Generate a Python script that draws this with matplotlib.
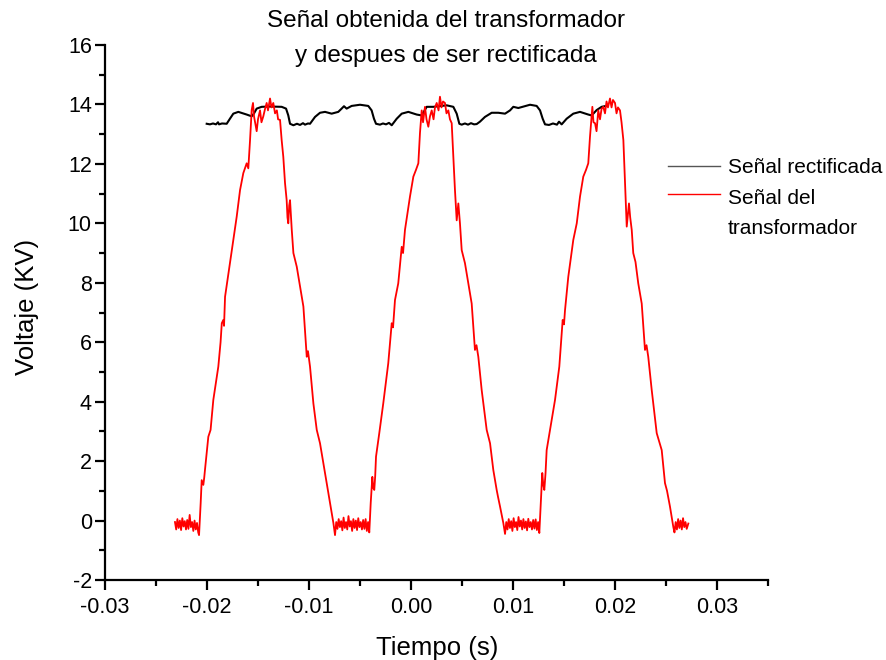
import matplotlib
matplotlib.use("Agg")
import matplotlib.pyplot as plt
from matplotlib.ticker import MultipleLocator

plt.rcParams['font.family'] = ['Liberation Sans', 'DejaVu Sans']
plt.rcParams['axes.unicode_minus'] = False

# ---- data ----
title_text = "Señal obtenida del transformador\ny despues de ser rectificada"
x_label = "Tiempo (s)"
y_label = "Voltaje (KV)"
label_rect = "Señal rectificada"
label_trans = "Señal del\ntransformador"

# rectified signal (black)
rect_t = [-0.02003, -0.01971, -0.01941, -0.01912, -0.01892, -0.01882, -0.01853, -0.01807,
          -0.01775, -0.01742, -0.01693, -0.01611, -0.01562, -0.01539, -0.01513, -0.01464,
          -0.01382, -0.01268, -0.01225, -0.01203, -0.01186, -0.01153, -0.01118, -0.01088,
          -0.01059, -0.01039, -0.01010, -0.00990, -0.00941, -0.00892, -0.00843, -0.00778,
          -0.00713, -0.00680, -0.00657, -0.00631, -0.00582, -0.00500, -0.00419, -0.00386,
          -0.00363, -0.00343, -0.00304, -0.00275, -0.00245, -0.00216, -0.00189, -0.00140,
          -0.00091, -0.00026, 0.00056, 0.00105, 0.00154, 0.00219, 0.00350, 0.00415,
          0.00448, 0.00474, 0.00497, 0.00529, 0.00559, 0.00588, 0.00618, 0.00644,
          0.00676, 0.00725, 0.00791, 0.00856, 0.00922, 0.00971, 0.01003, 0.01052,
          0.01167, 0.01232, 0.01265, 0.01291, 0.01314, 0.01353, 0.01392, 0.01431,
          0.01451, 0.01477, 0.01526, 0.01591, 0.01657, 0.01738, 0.01771, 0.01820,
          0.01869, 0.01912]
rect_v = [13.35, 13.33, 13.36, 13.33, 13.40, 13.33, 13.36, 13.35,
          13.52, 13.69, 13.75, 13.66, 13.60, 13.70, 13.86, 13.92,
          13.93, 13.92, 13.86, 13.63, 13.35, 13.30, 13.35, 13.31,
          13.37, 13.32, 13.36, 13.35, 13.58, 13.72, 13.75, 13.69,
          13.75, 13.86, 13.94, 13.86, 13.95, 13.99, 13.95, 13.80,
          13.52, 13.35, 13.32, 13.36, 13.33, 13.38, 13.30, 13.52,
          13.69, 13.75, 13.66, 13.63, 13.92, 13.92, 13.97, 13.92,
          13.69, 13.35, 13.32, 13.36, 13.32, 13.37, 13.33, 13.34,
          13.42, 13.58, 13.72, 13.72, 13.69, 13.80, 13.92, 13.88,
          13.99, 13.95, 13.80, 13.52, 13.33, 13.31, 13.36, 13.32,
          13.42, 13.33, 13.52, 13.69, 13.75, 13.66, 13.63, 13.81,
          13.92, 13.95]

# transformer signal (red)
trans_t = [
    # flat 1
    -0.02314, -0.02302, -0.02290, -0.02278, -0.02266, -0.02254, -0.02242, -0.02230,
    -0.02218, -0.02206, -0.02194, -0.02182, -0.02170, -0.02158, -0.02146, -0.02134,
    -0.02122, -0.02110, -0.02098, -0.02086, -0.02078,
    # peak 1
    -0.02062, -0.02052, -0.02036, -0.02027, -0.02020, -0.01987, -0.01965, -0.01938,
    -0.01889, -0.01867, -0.01855, -0.01840, -0.01833, -0.01823, -0.01775, -0.01742,
    -0.01709, -0.01676, -0.01644, -0.01611, -0.01595, -0.01578, -0.01562, -0.01549,
    -0.01539, -0.01529, -0.01513, -0.01500, -0.01480, -0.01466, -0.01448, -0.01431,
    -0.01415, -0.01402, -0.01382, -0.01368, -0.01350, -0.01333, -0.01315, -0.01303,
    -0.01284, -0.01268, -0.01252, -0.01235, -0.01219, -0.01211, -0.01203, -0.01194,
    -0.01186, -0.01169, -0.01153, -0.01120, -0.01088, -0.01055, -0.01022, -0.01010,
    -0.00990, -0.00957, -0.00924, -0.00892, -0.00859, -0.00826, -0.00813, -0.00794,
    -0.00761, -0.00745,
    # flat 2
    -0.00733, -0.00721, -0.00709, -0.00697, -0.00685, -0.00673, -0.00661, -0.00649,
    -0.00637, -0.00625, -0.00613, -0.00601, -0.00589, -0.00577, -0.00565, -0.00553,
    -0.00541, -0.00529, -0.00517, -0.00505, -0.00493, -0.00481, -0.00469, -0.00457,
    -0.00445, -0.00433, -0.00421, -0.00409,
    # peak 2
    -0.00395, -0.00379, -0.00370, -0.00360, -0.00351, -0.00343, -0.00311, -0.00272,
    -0.00223, -0.00189, -0.00176, -0.00157, -0.00125, -0.00091, -0.00078, -0.00059,
    -0.00010, 0.00023, 0.00049, 0.00072, 0.00088, 0.00105, 0.00118, 0.00137,
    0.00152, 0.00170, 0.00186, 0.00203, 0.00221, 0.00235, 0.00252, 0.00270,
    0.00284, 0.00299, 0.00314, 0.00333, 0.00348, 0.00366, 0.00382, 0.00399,
    0.00415, 0.00431, 0.00448, 0.00464, 0.00473, 0.00480, 0.00497, 0.00529,
    0.00562, 0.00595, 0.00627, 0.00642, 0.00660, 0.00693, 0.00742, 0.00775,
    0.00807, 0.00840, 0.00853, 0.00873, 0.00905, 0.00922,
    # flat 3
    0.00934, 0.00946, 0.00958, 0.00970, 0.00982, 0.00994, 0.01006, 0.01018,
    0.01030, 0.01042, 0.01054, 0.01066, 0.01078, 0.01090, 0.01102, 0.01114,
    0.01126, 0.01138, 0.01150, 0.01162, 0.01174, 0.01186, 0.01198, 0.01210,
    0.01222, 0.01234, 0.01246, 0.01258,
    # peak 3
    0.01272, 0.01287, 0.01297, 0.01307, 0.01319, 0.01330, 0.01363, 0.01412,
    0.01454, 0.01487, 0.01500, 0.01510, 0.01542, 0.01591, 0.01625, 0.01657,
    0.01689, 0.01716, 0.01738, 0.01755, 0.01778, 0.01789, 0.01804, 0.01819,
    0.01836, 0.01853, 0.01868, 0.01885, 0.01902, 0.01917, 0.01931, 0.01951,
    0.01966, 0.01980, 0.02000, 0.02015, 0.02029, 0.02049, 0.02064, 0.02082,
    0.02098, 0.02115, 0.02126, 0.02137, 0.02149, 0.02164, 0.02179, 0.02201,
    0.02228, 0.02262, 0.02294, 0.02309, 0.02326, 0.02360, 0.02409, 0.02458,
    0.02490, 0.02510, 0.02539, 0.02572, 0.02583,
    # flat 4
    0.02595, 0.02607, 0.02619, 0.02631, 0.02643, 0.02655, 0.02667, 0.02679,
    0.02691, 0.02703, 0.02719]
trans_v = [
    # flat 1
    -0.05, -0.30, 0.05, -0.25, 0.00, -0.32, 0.08, -0.20,
    -0.02, -0.30, 0.02, -0.28, 0.19, -0.22, -0.05, -0.35,
    0.00, -0.30, -0.08, -0.40, -0.49,
    # peak 1
    0.59, 1.36, 1.20, 1.45, 1.70, 2.82, 3.05, 4.06,
    5.18, 6.00, 6.64, 6.75, 6.55, 7.53, 8.65, 9.44,
    10.22, 11.12, 11.69, 12.02, 11.85, 12.80, 13.81, 14.05,
    13.60, 13.40, 13.10, 13.50, 13.80, 13.40, 13.60, 13.85,
    14.05, 13.80, 14.20, 13.90, 14.05, 13.70, 13.80, 13.50,
    13.48, 12.80, 12.24, 11.35, 10.78, 10.20, 10.00, 10.60,
    10.78, 9.78, 9.00, 8.54, 7.87, 7.20, 5.51, 5.70,
    5.18, 3.94, 3.05, 2.60, 1.93, 1.26, 1.00, 0.59,
    -0.08, -0.49,
    # flat 2
    -0.05, -0.28, 0.05, -0.22, -0.02, -0.33, 0.10, -0.25,
    -0.05, -0.30, 0.15, -0.20, -0.02, -0.35, 0.05, -0.25,
    0.00, -0.32, 0.08, -0.22, -0.05, -0.30, 0.02, -0.28,
    0.05, -0.35, -0.05, -0.40,
    # peak 2
    0.59, 1.47, 1.10, 1.03, 1.50, 2.15, 2.94, 3.94,
    5.29, 6.64, 6.50, 7.42, 7.98, 9.21, 9.00, 9.78,
    10.90, 11.57, 11.80, 12.02, 13.04, 13.80, 13.40, 13.92,
    13.50, 13.25, 13.60, 13.80, 13.50, 13.90, 14.05, 13.80,
    14.26, 13.90, 14.10, 14.05, 13.70, 13.80, 13.50, 13.37,
    12.24, 11.12, 10.10, 10.67, 10.30, 10.00, 9.10, 8.66,
    7.98, 7.30, 5.74, 5.90, 5.51, 4.39, 3.05, 2.60,
    1.70, 1.03, 0.80, 0.47, -0.08, -0.45,
    # flat 3
    -0.05, -0.30, 0.05, -0.25, -0.02, -0.35, 0.08, -0.22,
    -0.05, -0.32, 0.12, -0.20, 0.00, -0.30, 0.05, -0.25,
    -0.03, -0.33, 0.06, -0.22, -0.05, -0.30, 0.02, -0.27,
    0.04, -0.32, -0.05, -0.42,
    # peak 3
    0.59, 1.60, 1.20, 1.03, 1.60, 2.37, 3.05, 4.06,
    5.18, 6.75, 6.60, 7.08, 8.20, 9.44, 10.00, 10.90,
    11.57, 11.80, 12.02, 12.92, 13.92, 13.40, 13.37, 13.10,
    13.80, 13.50, 13.85, 13.92, 13.70, 14.10, 13.90, 14.20,
    13.90, 14.15, 14.05, 13.70, 13.90, 13.80, 13.40, 12.80,
    11.35, 9.89, 10.30, 10.67, 10.20, 9.78, 9.00, 8.70,
    7.98, 7.30, 5.74, 5.90, 5.51, 4.39, 2.94, 2.37,
    1.26, 1.00, 0.47, -0.22, -0.40,
    # flat 4
    -0.05, -0.30, 0.05, -0.25, 0.00, -0.30, 0.08, -0.22,
    -0.05, -0.28, -0.10]

x_ticks = [-0.03, -0.02, -0.01, 0.00, 0.01, 0.02, 0.03]
x_tick_labels = ["-0.03", "-0.02", "-0.01", "0.00", "0.01", "0.02", "0.03"]
y_ticks = [-2, 0, 2, 4, 6, 8, 10, 12, 14, 16]

# ---- figure ----
fig = plt.figure(figsize=(8.86, 6.6), dpi=100)
ax = fig.add_axes([105 / 886, (660 - 580) / 660, (768 - 105) / 886, (580 - 45) / 660])

ln_rect, = ax.plot(rect_t, rect_v, color='black', lw=1.5, label=label_rect)
ln_trans, = ax.plot(trans_t, trans_v, color='#ff0000', lw=1.3, label=label_trans)

ax.set_xlim(-0.03, 0.035)
ax.set_ylim(-2, 16)
ax.set_xticks(x_ticks)
ax.set_xticklabels(x_tick_labels)
ax.set_yticks(y_ticks)
ax.xaxis.set_minor_locator(MultipleLocator(0.005))
ax.yaxis.set_minor_locator(MultipleLocator(1))

for s in ['top', 'right']:
    ax.spines[s].set_visible(False)
for s in ['left', 'bottom']:
    ax.spines[s].set_linewidth(1.6)

ax.tick_params(which='major', direction='out', length=7, width=1.6, labelsize=15.5)
ax.tick_params(axis='x', which='major', pad=5)
ax.tick_params(axis='y', which='major', pad=2.5)
ax.tick_params(which='minor', direction='out', length=4, width=1.6)

ax.set_xlabel(x_label, fontsize=18.5)
ax.xaxis.set_label_coords((437 - 105) / 663, (580 - 648) / 535)
ax.xaxis.label.set_va('center')
ax.set_ylabel(y_label, fontsize=18.5)
ax.yaxis.set_label_coords((27 - 105) / 663, (580 - 307) / 535)
ax.yaxis.label.set_va('center')

fig.text(446 / 886, 1 - 38.5 / 660, title_text, ha='center', va='center', fontsize=17.5,
         linespacing=1.8)

leg = ax.legend(handles=[ln_rect, ln_trans], frameon=False, fontsize=15,
                loc='upper left', bbox_to_anchor=(668 / 886, 1 - 158 / 660),
                bbox_transform=fig.transFigure, handlelength=2.5, handletextpad=0.38,
                labelspacing=0.58, borderpad=0, borderaxespad=0)
for t in leg.get_texts():
    t.set_linespacing(1.7)
leg_lines = leg.get_lines()
leg_lines[0].set_linewidth(1.0)
leg_lines[0].set_color('#555555')
leg_lines[1].set_linewidth(1.0)
# align the red handle with the first line of its two-line label
yd = leg_lines[1].get_ydata()
leg_lines[1].set_ydata([v + 13.8 for v in yd])

fig.savefig("out.png", dpi=100)
